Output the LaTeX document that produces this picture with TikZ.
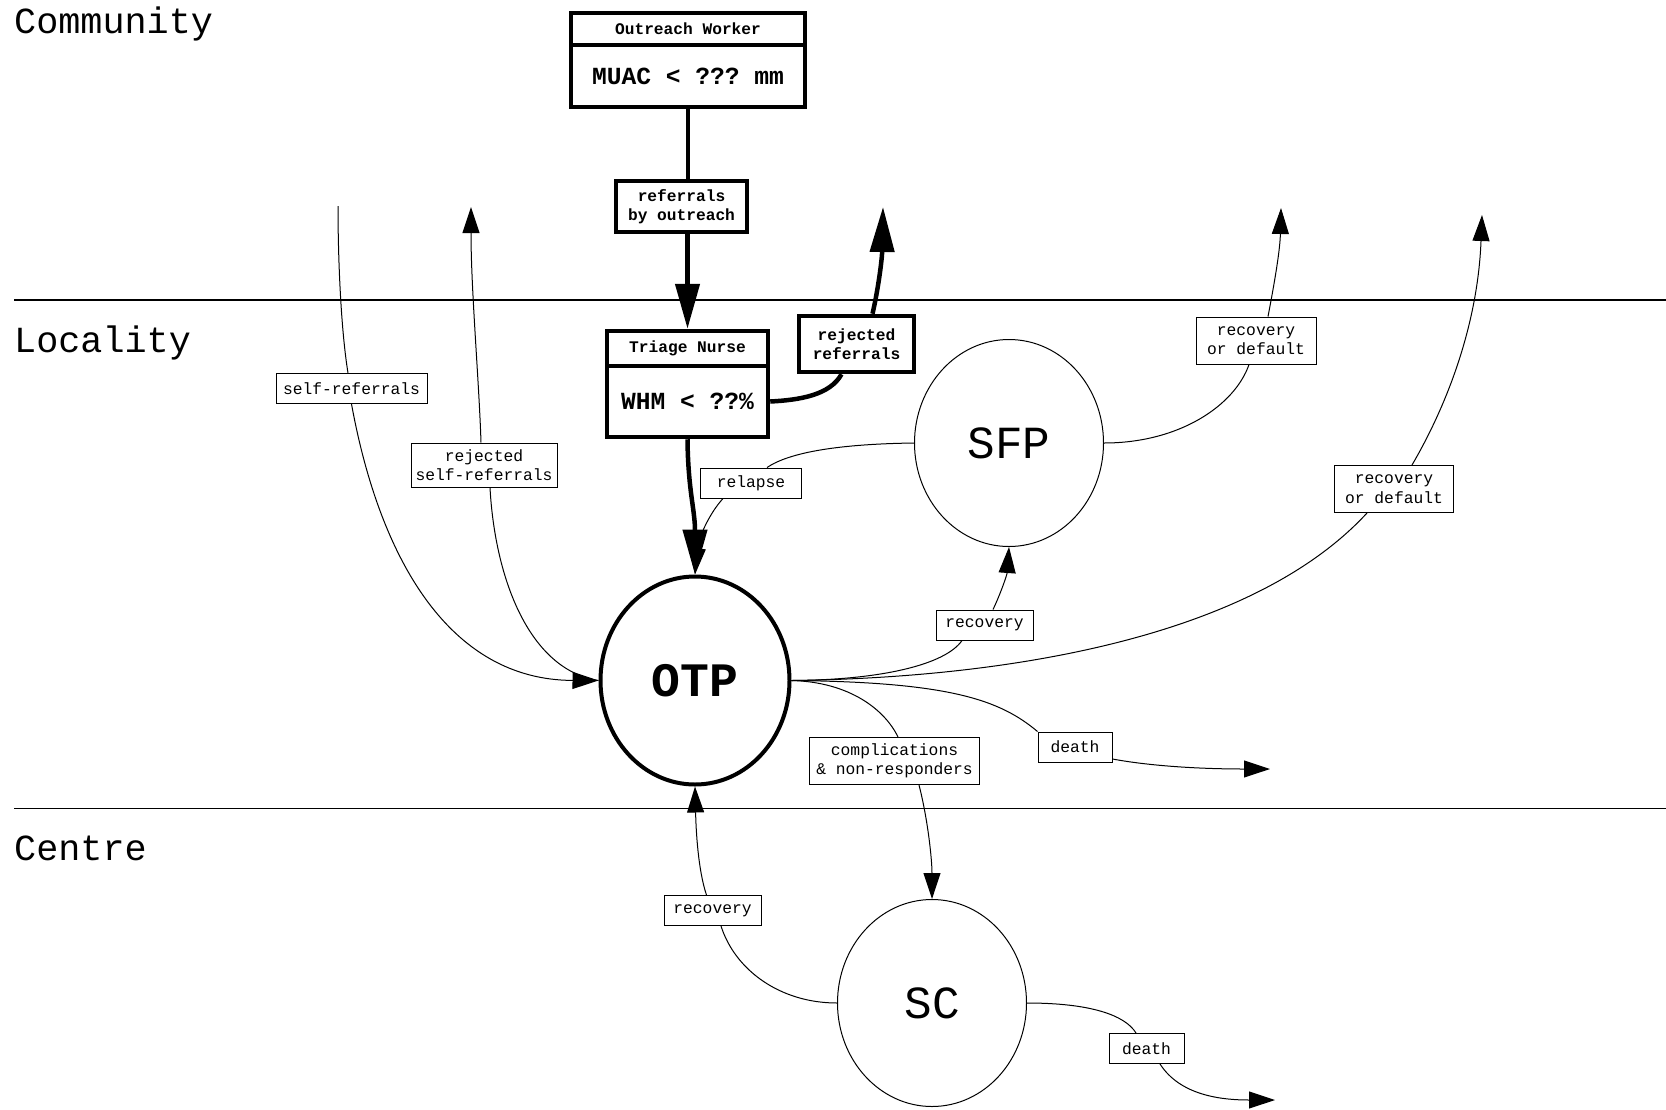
\documentclass[tikz,border=0pt]{standalone}
\usepackage{fontspec}
\setmainfont{Liberation Mono}
\usetikzlibrary{arrows.meta,shapes.geometric}
\frenchspacing
\begin{document}
\begin{tikzpicture}[x=1pt,y=-1pt,
  plain/.style={line width=1pt},
  conn/.style={line width=1pt,-{Triangle[length=26pt,width=17pt]}},
  boldline/.style={line width=4.5pt},
  boldarrow/.style={line width=4.5pt,-{Triangle[length=45pt,width=24pt]}},
  lbl/.style={draw,line width=1pt,font=\fontsize{16.3}{19.5}\selectfont,align=center,inner xsep=4pt,inner ysep=0pt,minimum height=30pt},
  lbltwo/.style={lbl,minimum height=47pt},
  bbox/.style={draw,line width=4.5pt,inner sep=0pt,align=center},
  smallbold/.style={font=\fontsize{16.2}{19.5}\selectfont\bfseries},
  bigbold/.style={font=\fontsize{24.6}{28}\selectfont\bfseries},
  zonetxt/.style={font=\fontsize{36.8}{40}\selectfont,anchor=base west,inner sep=0pt},
  circ/.style={ellipse,draw,line width=1pt,minimum width=189pt,minimum height=207pt,inner sep=0pt,font=\fontsize{46}{50}\selectfont}
]
\fill[white] (0,0) rectangle (1666,1109);
\useasboundingbox (0,0) rectangle (1666,1109);

% zones
\draw[line width=1.2pt] (14,300) -- (1666,300);
\draw[line width=1.2pt] (14,808.5) -- (1666,808.5);
\node[zonetxt] (community) at (14,33) {Community};
\node[zonetxt] (locality) at (14,352) {Locality};
\node[zonetxt] (centre) at (14,860) {Centre};

% boxes
\node[bbox,smallbold,minimum width=234pt,minimum height=32pt] (owtop) at (688,29) {Outreach Worker};
\node[bbox,bigbold,minimum width=234pt,minimum height=62pt] (owbot) at (688,76) {MUAC < ??? mm};
\node[bbox,smallbold,minimum width=131pt,minimum height=51pt] (ref) at (681.5,206.5) {referrals\\by outreach};
\node[bbox,smallbold,minimum width=161pt,minimum height=35pt] (tntop) at (687.5,348.5) {Triage Nurse};
\node[bbox,bigbold,minimum width=161pt,minimum height=71pt] (tnbot) at (687.5,401.5) {WHM < ??\%};
\node[bbox,smallbold,minimum width=115pt,minimum height=56pt] (rej) at (856.5,344) {rejected\\referrals};

% ellipses
\node[circ,line width=4pt,font=\fontsize{48}{52}\selectfont\bfseries,minimum height=208pt] (otp) at (695,680.5) {OTP};
\node[circ] (sfp) at (1009,443) {SFP};
\node[circ] (sc) at (932,1003) {SC};

% labels
\node[lbl,minimum width=151pt] (lsr) at (351.5,388.5) {self-referrals};
\node[lbltwo,minimum width=146pt,minimum height=44pt] (lrsr) at (484,465) {rejected\\self-referrals};
\node[lbl,minimum width=101pt] (lrel) at (751,483) {relapse};
\node[lbltwo,minimum width=120pt] (lrd1) at (1256,340.5) {recovery\\or default};
\node[lbltwo,minimum width=119pt] (lrd2) at (1394,489) {recovery\\or default};
\node[lbl,minimum width=97pt] (lrec1) at (984.5,625) {recovery};
\node[lbltwo,minimum width=170pt] (lcomp) at (894.5,761) {complications\\\& non-responders};
\node[lbl,minimum width=74pt] (ld1) at (1075,747) {death};
\node[lbl,minimum width=97pt] (lrec2) at (712.5,910.5) {recovery};
\node[lbl,minimum width=75pt] (ld2) at (1146.5,1048.5) {death};

% free ends
\coordinate (srtop) at (338,206);
\coordinate (rsrtip) at (471,207);
\coordinate (rejtip) at (883,207);
\coordinate (sfpout) at (1281,208);
\coordinate (otpout) at (1482,215);
\coordinate (deathtip) at (1270,769);
\coordinate (scdeathtip) at (1275,1100);

% thin connectors
\draw[plain] (srtop) .. controls (338,260) and (341,330) .. ([xshift=-3.5pt]lsr.north);
\draw[conn] (lsr.south) .. controls (380,560) and (450,680) .. (otp.west);
\draw[plain] (otp.west) .. controls (530,670) and (495,580) .. ([xshift=6pt]lrsr.south);
\draw[conn] ([xshift=-3pt]lrsr.north) .. controls (479,380) and (471,290) .. (rsrtip);

\draw[plain] (sfp.west) .. controls (840,444) and (790,452) .. ([xshift=16pt]lrel.north);
\draw[conn] ([xshift=-28pt]lrel.south) .. controls (708,515) and (698,540) .. (otp.north);

\draw[plain] (sfp.east) .. controls (1180,443) and (1235,405) .. ([xshift=-7pt]lrd1.south);
\draw[conn] ([xshift=12pt]lrd1.north) .. controls (1275,280) and (1280,250) .. (sfpout);

\draw[plain] (otp.east) .. controls (880,680) and (945,665) .. ([xshift=-22.5pt]lrec1.south);
\draw[conn] ([xshift=8.5pt]lrec1.north) .. controls (1000,595) and (1007,575) .. (sfp.south);

\draw[plain] (otp.east) .. controls (1000,678) and (1250,640) .. ([xshift=-27pt]lrd2.south);
\draw[conn] ([xshift=18pt]lrd2.north) .. controls (1450,400) and (1478,320) .. (otpout);

\draw[plain] (otp.east) .. controls (850,682) and (885,710) .. ([xshift=3.5pt]lcomp.north);
\draw[conn] ([xshift=24.5pt]lcomp.south) .. controls (928,820) and (932,860) .. (sc.north);

\draw[plain] (otp.east) .. controls (950,682) and (1000,700) .. (ld1.north west);
\draw[conn] ([yshift=-12pt]ld1.east) .. controls (1150,766) and (1200,769) .. (deathtip);

\draw[plain] (sc.west) .. controls (780,1003) and (735,970) .. ([xshift=8.5pt]lrec2.south);
\draw[conn] ([xshift=-6pt]lrec2.north) .. controls (698,870) and (696,830) .. (otp.south);

\draw[plain] (sc.east) .. controls (1090,1003) and (1125,1015) .. ([xshift=-10.5pt]ld2.north);
\draw[conn] ([xshift=13.5pt]ld2.south) .. controls (1180,1095) and (1220,1100) .. (scdeathtip);

% thick connectors
\draw[boldline] (owbot.south) -- (ref.north -| owbot.south);
\draw[boldarrow] (ref.south -| tntop.north) -- (tntop.north);
\draw[boldline] (tnbot.east) .. controls (800,400) and (830,395) .. ([xshift=-15pt]rej.south);
\draw[boldarrow] ([xshift=16pt]rej.north) .. controls (878,290) and (882,260) .. (rejtip);
\draw[boldarrow] (tnbot.south) .. controls (688,490) and (695,510) .. (otp.north);
\end{tikzpicture}
\end{document}
